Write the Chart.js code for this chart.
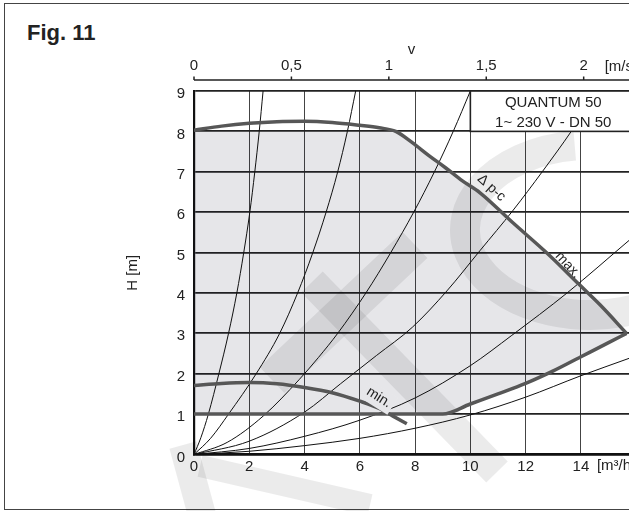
<!DOCTYPE html>
<html>
<head>
<meta charset="utf-8">
<script src="https://cdn.jsdelivr.net/npm/chart.js@4.4.0/dist/chart.umd.min.js"></script>
<style>
  html, body { margin: 0; padding: 0; background: #fff; }
  #wrap { position: relative; width: 629px; height: 511px; overflow: hidden; }
  #frame { position: absolute; left: 4px; top: 3px; width: 700px; height: 505px; border: 1.5px solid #444; }
  #fig { position: absolute; left: 27px; top: 21.7px; font: bold 22px "Liberation Sans", Arial, sans-serif; line-height: 22px; color: #222; }
  canvas { position: absolute; left: 0; top: 0; }
</style>
</head>
<body>
<div id="wrap">
  <div id="frame"></div>
  <div id="fig">Fig. 11</div>
  <canvas id="pump-chart" width="629" height="511"></canvas>
</div>
<script>
const flowMax = 15.74;            // m3/h at the right edge
const velocityPerFlow = 1 / 7.05; // DN 50: m/s per m3/h

const flowTicks = [0, 2, 4, 6, 8, 10, 12, 14];
const headTicks = [0, 1, 2, 3, 4, 5, 6, 7, 8, 9];
const velocityTicks = [0, 0.5, 1, 1.5, 2];

// pump curves [Q m3/h, H m]
const maxCurve = [[0, 8.03], [1, 8.13], [2, 8.2], [3, 8.24], [4, 8.25], [5, 8.22], [6, 8.15], [6.7, 8.09],
    [7.3, 8.0], [7.9, 7.72], [8.5, 7.4], [9.1, 7.1], [9.7, 6.78], [10.35, 6.48], [11.55, 5.73],
    [12.75, 5.0], [13.95, 4.2], [14.7, 3.7], [15.65, 3.0]];
const minCurve = [[0, 1.71], [1, 1.76], [2, 1.78], [3, 1.75], [4, 1.66], [5, 1.53], [6, 1.32],
    [6.7, 1.14], [7.2, 0.95], [7.7, 0.76]];
const lowerLimit = [[0, 1], [9, 1], [10, 1.25], [11, 1.5], [12, 1.76], [13, 2.07], [14, 2.42],
    [15, 2.77], [15.65, 3.0]];
const shadeTop = [[0, 8], [7.3, 8], [7.9, 7.72], [8.5, 7.4], [9.1, 7.1], [9.7, 6.78], [10.35, 6.48],
    [11.55, 5.73], [12.75, 5.0], [13.95, 4.2], [14.7, 3.7], [15.65, 3.0]];

// system curves
const sysA = [[0, 0], [0.25, 0.42], [0.52, 1.0], [0.9, 2.0], [1.25, 3.0], [1.55, 4.0], [1.8, 5.0],
    [2.02, 6.0], [2.2, 7.0], [2.36, 8.0], [2.5, 9.0]];
const sysB = [[0, 0], [0.6, 0.4], [1.25, 1.0], [2.25, 2.0], [3.1, 3.0], [3.75, 4.0], [4.3, 5.0],
    [4.78, 6.0], [5.2, 7.0], [5.55, 8.0], [5.85, 9.0]];
const sysC = [[0, 0], [1.2, 0.3], [2.5, 0.95], [3.8, 1.85], [4.5, 2.4], [5.2, 3.0], [6.22, 4.0],
    [7.12, 5.0], [7.95, 6.0], [8.7, 7.0], [9.38, 8.0], [10.0, 9.0]];
const sysD = [[0, 0], [2, 0.33], [4, 1.05], [5.3, 1.75], [6.6, 2.45], [7.9, 3.15], [9.15, 4.05],
    [10.35, 5.05], [11.55, 6.05], [12.6, 7.0], [13.65, 8.0], [14.6, 9.0]];
const sysE = [[0, 0], [2, 0.15], [4, 0.45], [6, 0.85], [8, 1.4], [10, 2.2], [11.5, 2.95],
    [13.5, 4.0], [15.74, 5.3]];
const sysF = [[0, 0], [2, 0.08], [4, 0.22], [6, 0.4], [8, 0.65], [10, 0.98], [12, 1.42],
    [14, 1.95], [15.74, 2.38]];

// curve captions: text, Q, H, rotation in degrees, boxed
const captions = [
    ['\u0394 p-c', 10.76, 6.6, 42, false],
    ['max.', 13.53, 4.69, 47, false],
    ['min.', 6.69, 1.41, 32, true]
];

// faint stamp behind the diagram (canvas px)
const stampBands = [
    [[415, 245], [272, 380], 36],
    [[312, 282], [497, 472], 30],
    [[183, 445], [202, 515], 28],
    [[200, 466], [370, 505], 22]
];
const stampArc = { cx: 590, cy: 230, rx: 125, ry: 85, width: 30, from: 30, to: 263 };

const FONT = '"Liberation Sans", Arial, sans-serif';
const SHADE = 'rgba(20, 20, 45, 0.105)';
const pts = arr => arr.map(p => ({ x: p[0], y: p[1] }));

function thick(data) {
    return { data: pts(data), borderColor: '#575757', borderWidth: 3.5, pointRadius: 0,
        fill: false, cubicInterpolationMode: 'monotone' };
}
function thin(data) {
    return { data: pts(data), borderColor: '#111', borderWidth: 1, pointRadius: 0,
        fill: false, cubicInterpolationMode: 'monotone' };
}

const decorations = {
    id: 'decorations',
    beforeDatasetsDraw(chart) {
        const { ctx } = chart;
        ctx.save();
        ctx.strokeStyle = 'rgba(0, 0, 0, 0.08)';
        ctx.lineCap = 'butt';
        stampBands.forEach(([a, b, w]) => {
            ctx.lineWidth = w;
            ctx.beginPath();
            ctx.moveTo(a[0], a[1]);
            ctx.lineTo(b[0], b[1]);
            ctx.stroke();
        });
        const s = stampArc;
        ctx.lineWidth = s.width;
        ctx.beginPath();
        ctx.ellipse(s.cx, s.cy, s.rx, s.ry, 0, s.from * Math.PI / 180, s.to * Math.PI / 180);
        ctx.stroke();
        ctx.restore();
    },
    afterDatasetsDraw(chart) {
        const { ctx, scales: { x, y } } = chart;
        // type plate
        const bx = x.getPixelForValue(10), by = y.getPixelForValue(9), bb = y.getPixelForValue(8);
        ctx.save();
        ctx.fillStyle = '#fff';
        ctx.fillRect(bx, by, chart.width - bx + 10, bb - by);
        ctx.strokeStyle = '#222';
        ctx.lineWidth = 1.6;
        ctx.strokeRect(bx, by, chart.width - bx + 10, bb - by);
        ctx.fillStyle = '#222';
        ctx.font = '15px ' + FONT;
        ctx.textAlign = 'center';
        ctx.textBaseline = 'middle';
        ctx.fillText('QUANTUM 50', x.getPixelForValue(13), y.getPixelForValue(8.7));
        ctx.fillText('1~ 230 V - DN 50', x.getPixelForValue(13), y.getPixelForValue(8.22));

        ctx.font = '14px ' + FONT;
        captions.forEach(([text, q, h, rot, boxed]) => {
            ctx.save();
            ctx.translate(x.getPixelForValue(q), y.getPixelForValue(h));
            ctx.rotate(rot * Math.PI / 180);
            if (boxed) {
                const w = ctx.measureText(text).width + 6;
                ctx.fillStyle = '#fff';
                ctx.fillRect(-w / 2, -10, w, 20);
                ctx.fillStyle = SHADE;
                ctx.fillRect(-w / 2, -10, w, 20);
                ctx.fillStyle = '#222';
            }
            ctx.fillText(text, 0, 0);
            ctx.restore();
        });
        ctx.restore();
    },
    afterDraw(chart) {
        const { ctx, scales: { x, xv } } = chart;
        const lineY = 80;
        ctx.save();
        ctx.strokeStyle = '#222';
        ctx.lineWidth = 1.5;
        ctx.beginPath();
        ctx.moveTo(xv.getPixelForValue(0), lineY);
        ctx.lineTo(chart.width, lineY);
        velocityTicks.forEach(v => {
            const px = xv.getPixelForValue(v);
            ctx.moveTo(px, lineY);
            ctx.lineTo(px, lineY - 3.5);
        });
        ctx.stroke();
        ctx.fillStyle = '#222';
        ctx.font = '15px ' + FONT;
        ctx.textAlign = 'left';
        ctx.textBaseline = 'middle';
        ctx.fillText('[m/s]', xv.getPixelForValue(2) + 21, 67);
        ctx.fillText('[m\u00b3/h]', x.getPixelForValue(14) + 16, 466);
        ctx.restore();
    }
};

new Chart(document.getElementById('pump-chart'), {
    type: 'line',
    data: {
        datasets: [
            thick(maxCurve),
            thick(minCurve),
            { data: pts(shadeTop), borderWidth: 0, pointRadius: 0, fill: '+1', backgroundColor: SHADE },
            thick(lowerLimit),
            thin(sysA), thin(sysB), thin(sysC), thin(sysD), thin(sysE), thin(sysF)
        ]
    },
    options: {
        responsive: false,
        animation: false,
        layout: { padding: 0 },
        plugins: {
            legend: { display: false },
            tooltip: { enabled: false },
            filler: { drawTime: 'beforeDatasetsDraw' }
        },
        scales: {
            x: {
                type: 'linear', position: 'bottom', min: 0, max: flowMax,
                afterBuildTicks: s => { s.ticks = flowTicks.map(v => ({ value: v })); },
                afterFit: s => { s.height = 56.5; },
                grid: { color: '#444', lineWidth: 1, drawTicks: false },
                border: { color: '#111', width: 2.2 },
                ticks: { padding: 3, color: '#222', font: { family: FONT, size: 15 } }
            },
            xv: {
                type: 'linear', position: 'top', min: 0, max: flowMax * velocityPerFlow,
                afterBuildTicks: s => { s.ticks = velocityTicks.map(v => ({ value: v })); },
                afterFit: s => { s.height = 91; },
                grid: { display: false, drawTicks: false },
                border: { display: false },
                ticks: { padding: 16, color: '#222', font: { family: FONT, size: 15 },
                    callback: v => String(v).replace('.', ',') },
                title: { display: true, text: 'v', color: '#222', padding: { top: 41, bottom: 0 },
                    font: { family: FONT, size: 15 } }
            },
            y: {
                type: 'linear', min: 0, max: 9,
                afterBuildTicks: s => { s.ticks = headTicks.map(v => ({ value: v })); },
                afterFit: s => { s.width = 194; },
                grid: { color: '#222', lineWidth: 1.8, drawTicks: false },
                border: { color: '#111', width: 2.2 },
                ticks: { padding: 9, labelOffset: 3, color: '#222', font: { family: FONT, size: 15 } },
                title: { display: true, text: 'H [m]', color: '#222', padding: { top: 124, bottom: 0 },
                    font: { family: FONT, size: 15 } }
            }
        }
    },
    plugins: [decorations]
});
</script>
</body>
</html>
